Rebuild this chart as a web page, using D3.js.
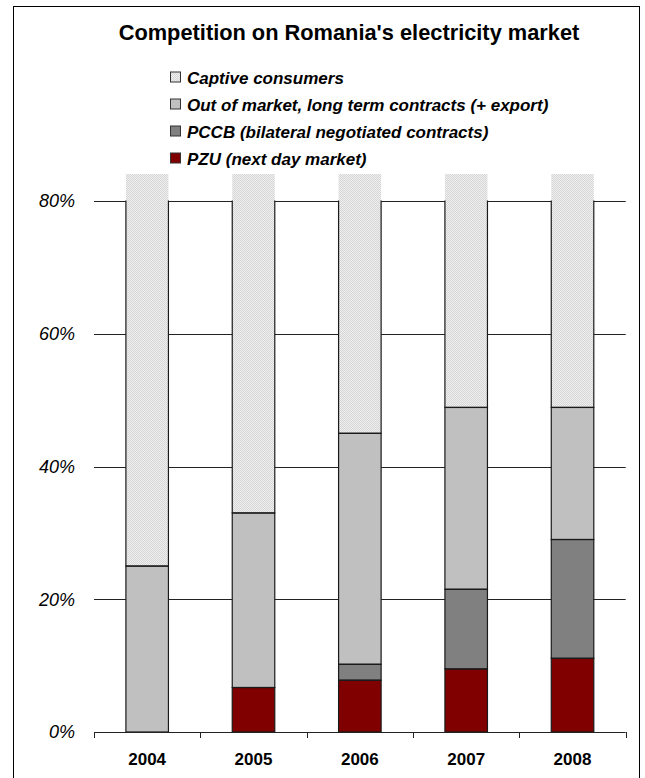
<!DOCTYPE html>
<html><head><meta charset="utf-8">
<script src="https://cdn.jsdelivr.net/npm/d3@7"></script>
<style>body{margin:0;background:#fff}svg{display:block}text{font-family:"Liberation Sans",Arial,sans-serif}</style>
</head><body><svg id="c" width="645" height="778"></svg>
<script>
const years = ["2004","2005","2006","2007","2008"];
const seriesNames = ["PZU (next day market)","PCCB (bilateral negotiated contracts)","Out of market, long term contracts (+ export)","Captive consumers"];
const pzu = [0, 6.7, 7.8, 9.5, 11.1];
const pccb = [0, 0, 2.4, 12.0, 17.9];
const outMarket = [25.0, 26.3, 34.8, 27.4, 19.9];
const captive = [75.0, 67.0, 55.0, 51.1, 51.1];
const yTicks = [0, 20, 40, 60, 80];
const colors = ["#800000","#808080","#C0C0C0","url(#dots)"];
const title = "Competition on Romania's electricity market";

(function(){
const svg = d3.select("#c");
const defs = svg.append("defs");
const pat = defs.append("pattern").attr("id","dots").attr("patternUnits","userSpaceOnUse").attr("width",2).attr("height",2);
pat.append("rect").attr("width",2).attr("height",2).attr("fill","#efefef");
pat.append("rect").attr("width",1).attr("height",1).attr("fill","#d6d6d6");
pat.append("rect").attr("x",1).attr("y",1).attr("width",1).attr("height",1).attr("fill","#d6d6d6");

const pl = 94, pr = 625.7, pt = 174, pb = 732;
const x = d3.scaleBand().domain(years).range([pl, pr]).paddingInner(0.6).paddingOuter(0.3);
const y = d3.scaleLinear().domain([0, 84.07]).range([pb, pt]);

// frame
svg.append("rect").attr("x",13.5).attr("y",6.5).attr("width",626).attr("height",800).attr("fill","none").attr("stroke","#000").attr("stroke-width",1);

// title
svg.append("text").attr("x",349).attr("y",40).attr("text-anchor","middle").attr("font-weight","bold").attr("font-size",21.8).text(title);

// legend
const legendOrder = [3,2,1,0];
legendOrder.forEach((si,i)=>{
  const ly = 77.5 + i*27;
  svg.append("rect").attr("x",170.5).attr("y",ly-5.5).attr("width",10).attr("height",10)
    .attr("fill",colors[si]).attr("stroke","#333");
  svg.append("text").attr("x",187).attr("y",ly).attr("dy","0.36em").attr("font-weight","bold").attr("font-style","italic")
    .attr("font-size",17).text(seriesNames[si]);
});

// gridlines
svg.append("g").selectAll("line").data(yTicks.filter(d=>d>0)).join("line")
  .attr("x1",pl).attr("x2",pr).attr("y1",d=>Math.round(y(d))+0.5).attr("y2",d=>Math.round(y(d))+0.5)
  .attr("stroke","#222");

// y labels
svg.append("g").selectAll("text").data(yTicks).join("text")
  .attr("x",75).attr("y",d=>y(d)).attr("dy","0.36em").attr("text-anchor","end")
  .attr("font-style","italic").attr("font-size",18).text(d=>d+"%");

// stack
const table = years.map((yr,i)=>({year:yr, pzu:pzu[i], pccb:pccb[i], out:outMarket[i], captive:captive[i]}));
const keys = ["pzu","pccb","out","captive"];
const stacked = d3.stack().keys(keys)(table);

defs.append("clipPath").attr("id","plotClip").append("rect").attr("x",0).attr("y",pt).attr("width",645).attr("height",pb-pt);
defs.append("clipPath").attr("id","strokeClip").append("rect").attr("x",0).attr("y",y(80)-0.5).attr("width",645).attr("height",pb-y(80)+1);

const fills = svg.append("g").attr("clip-path","url(#plotClip)");
stacked.forEach((s,si)=>{
  fills.append("g").selectAll("rect").data(s.filter(d=>d[1]-d[0]>0)).join("rect")
    .attr("x",d=>x(d.data.year)).attr("width",x.bandwidth())
    .attr("y",d=>y(d[1])).attr("height",d=>y(d[0])-y(d[1]))
    .attr("fill",colors[si]);
});
const strokes = svg.append("g").attr("clip-path","url(#strokeClip)");
stacked.forEach((s,si)=>{
  strokes.append("g").selectAll("rect").data(s.filter(d=>d[1]-d[0]>0)).join("rect")
    .attr("x",d=>x(d.data.year)).attr("width",x.bandwidth())
    .attr("y",d=>y(d[1])).attr("height",d=>y(d[0])-y(d[1]))
    .attr("fill","none").attr("stroke","#1a1a1a").attr("stroke-width",1.2);
});

// x axis
svg.append("line").attr("x1",pl).attr("x2",pr).attr("y1",pb+0.5).attr("y2",pb+0.5).attr("stroke","#222");
const bounds = years.map(yr=>x(yr)-x.step()*0.3).concat([pr]);
svg.append("g").selectAll("line").data(bounds).join("line")
  .attr("x1",d=>Math.round(d)+0.5).attr("x2",d=>Math.round(d)+0.5).attr("y1",pb).attr("y2",pb+6).attr("stroke","#222");
svg.append("g").selectAll("text").data(years).join("text")
  .attr("x",d=>x(d)+x.bandwidth()/2).attr("y",765).attr("text-anchor","middle")
  .attr("font-weight","bold").attr("font-size",17).text(d=>d);
})();
</script></body></html>
